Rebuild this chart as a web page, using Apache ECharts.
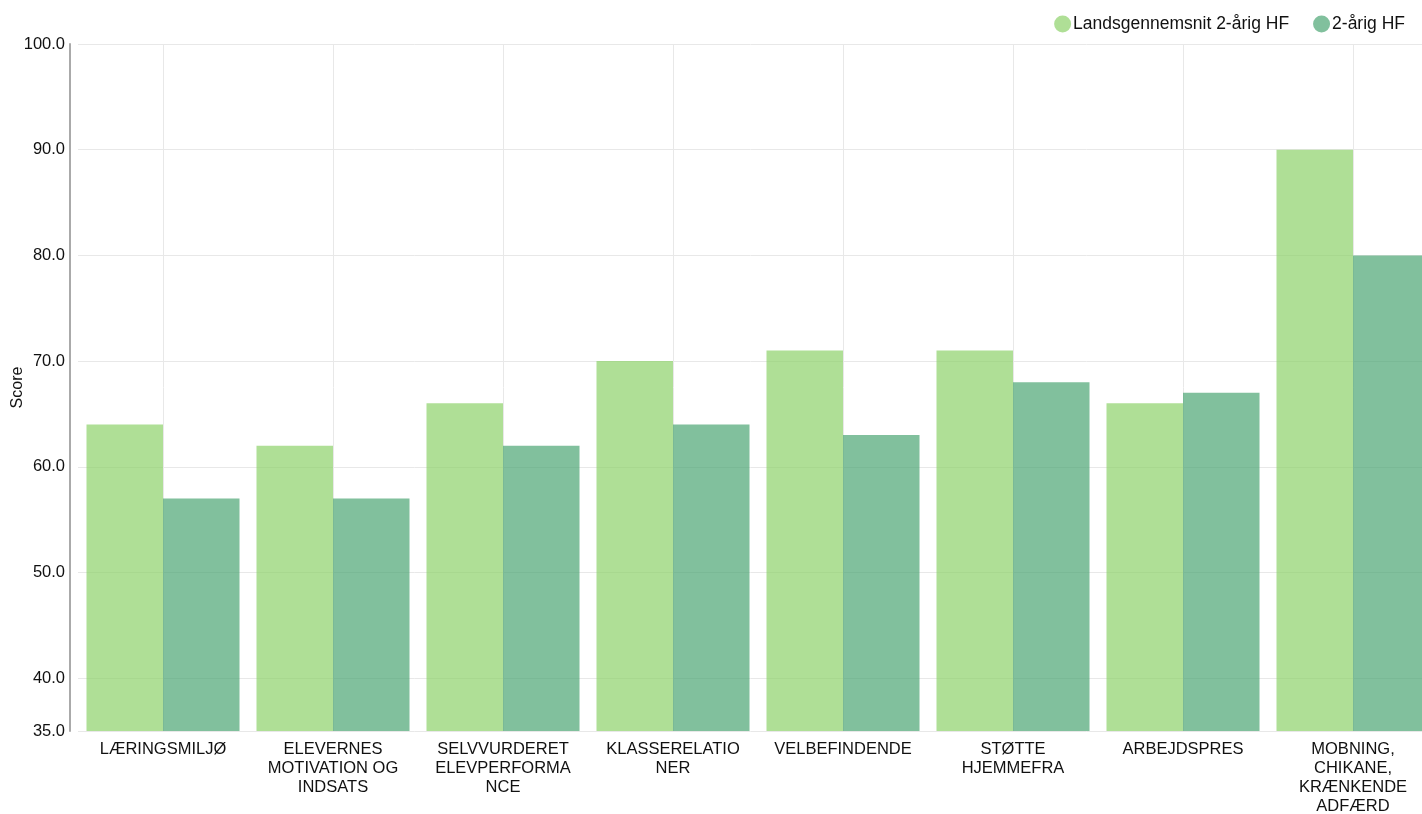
<!DOCTYPE html>
<html>
<head>
<meta charset="utf-8">
<script src="https://cdn.jsdelivr.net/npm/echarts@6/dist/echarts.min.js"></script>
<style>
html,body{margin:0;padding:0;background:#fff;}
#chart{width:1422px;height:814px;}
</style>
</head>
<body>
<div id="chart"></div>
<script>
const categories = [
  'LÆRINGSMILJØ',
  'ELEVERNES\nMOTIVATION OG\nINDSATS',
  'SELVVURDERET\nELEVPERFORMA\nNCE',
  'KLASSERELATIO\nNER',
  'VELBEFINDENDE',
  'STØTTE\nHJEMMEFRA',
  'ARBEJDSPRES',
  'MOBNING,\nCHIKANE,\nKRÆNKENDE\nADFÆRD'
];
const seriesNames = ['Landsgennemsnit 2-årig HF', '2-årig HF'];
const landsgennemsnit = [64, 62, 66, 70, 71, 71, 66, 90];
const hf2aarig = [57, 57, 62, 64, 63, 68, 67, 80];
const yAxisName = 'Score';
const yMin = 35, yMax = 100;

const chart = echarts.init(document.getElementById('chart'), null, {renderer: 'canvas'});
const font = '"Liberation Sans", Arial, sans-serif';
chart.setOption({
  animation: false,
  textStyle: {fontFamily: font},
  color: ['#8dd26a', '#4ca574'],
  legend: {
    right: 12, top: 10,
    icon: 'circle', itemWidth: 17, itemHeight: 17, itemGap: 24,
    textStyle: {fontSize: 17.5, color: '#111', fontFamily: font, padding: [0, 0, 0, -3]},
    data: seriesNames
  },
  grid: {left: 78, right: -16, top: 44, bottom: 83, containLabel: false, outerBoundsMode: 'none'},
  xAxis: {
    type: 'category',
    data: categories,
    axisLine: {show: false},
    axisTick: {show: false},
    splitLine: {show: false},
    axisLabel: {fontSize: 16.5, color: '#111', lineHeight: 19, margin: 9, interval: 0, fontFamily: font}
  },
  yAxis: {
    type: 'value',
    min: yMin, max: yMax, splitNumber: 6,
    offset: 8,
    name: yAxisName,
    nameLocation: 'middle', nameRotate: 90, nameGap: 44,
    nameMoveOverlap: false,
    nameTextStyle: {fontSize: 16, color: '#111', fontFamily: font},
    axisLine: {show: true, lineStyle: {color: '#aaa', width: 2}},
    axisTick: {show: false},
    splitLine: {lineStyle: {color: '#e8e8e8'}},
    axisLabel: {fontSize: 16.5, color: '#111', margin: 5, formatter: v => v.toFixed(1), showMinLabel: true, showMaxLabel: true, fontFamily: font}
  },
  series: [
    {
      name: 'gridlines', type: 'line', data: [], silent: true, z: 0,
      markLine: {
        silent: true, symbol: ['none', 'none'], z: 0,
        label: {show: false},
        lineStyle: {color: '#e8e8e8', type: 'solid', width: 1},
        data: categories.map(c => ({xAxis: c}))
      }
    },
    {
      name: seriesNames[0], type: 'bar', data: landsgennemsnit,
      barGap: '0%', barCategoryGap: '10%', z: 3,
      itemStyle: {opacity: 0.7, color: '#8dd26a'}
    },
    {
      name: seriesNames[1], type: 'bar', data: hf2aarig,
      barGap: '0%', barCategoryGap: '10%', z: 3,
      itemStyle: {opacity: 0.7, color: '#4ca574'}
    }
  ]
});
</script>
</body>
</html>
